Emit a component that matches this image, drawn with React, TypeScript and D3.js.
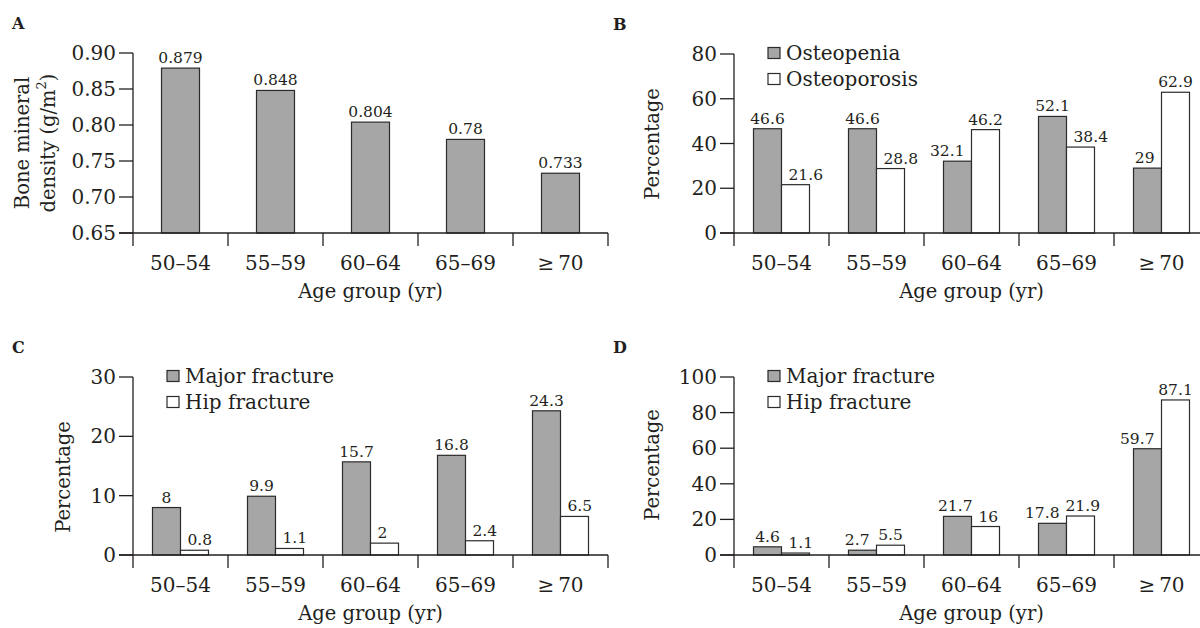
import React, { useRef, useEffect } from 'react';
import * as d3 from 'd3';

const AGE_GROUPS = ['50–54', '55–59', '60–64', '65–69', '≥\u200970'];

const BMD = [0.879, 0.848, 0.804, 0.78, 0.733];

const OSTEOPENIA = [46.6, 46.6, 32.1, 52.1, 29];
const OSTEOPOROSIS = [21.6, 28.8, 46.2, 38.4, 62.9];

const MAJOR_C = [8, 9.9, 15.7, 16.8, 24.3];
const HIP_C = [0.8, 1.1, 2, 2.4, 6.5];

const MAJOR_D = [4.6, 2.7, 21.7, 17.8, 59.7];
const HIP_D = [1.1, 5.5, 16, 21.9, 87.1];

const INK = '#231f20';
const GREY = '#a6a6a6';
const FONT = '"DejaVu Serif", serif';

type Series = { name: string; values: number[]; fill: string };

type Panel = {
  letter: string;
  left: number;
  top: number;
  bottom: number;
  domain: [number, number];
  ticks: number[];
  tickFmt: (v: number) => string;
  series: Series[];
  legend: boolean;
  yTitle: { lines: string[]; xs: number[]; cy: number; sup?: boolean };
};

const PANELS: Panel[] = [
  {
    letter: 'A', left: 133, top: 53, bottom: 233,
    domain: [0.65, 0.9], ticks: [0.65, 0.7, 0.75, 0.8, 0.85, 0.9],
    tickFmt: d3.format('.2f'),
    series: [{ name: 'BMD', values: BMD, fill: GREY }],
    legend: false,
    yTitle: { lines: ['Bone mineral', 'density (g/m'], xs: [22, 48], cy: 143, sup: true },
  },
  {
    letter: 'B', left: 734, top: 54, bottom: 233,
    domain: [0, 80], ticks: [0, 20, 40, 60, 80],
    tickFmt: d3.format('d'),
    series: [
      { name: 'Osteopenia', values: OSTEOPENIA, fill: GREY },
      { name: 'Osteoporosis', values: OSTEOPOROSIS, fill: '#ffffff' },
    ],
    legend: true,
    yTitle: { lines: ['Percentage'], xs: [652], cy: 144 },
  },
  {
    letter: 'C', left: 133, top: 377, bottom: 555,
    domain: [0, 30], ticks: [0, 10, 20, 30],
    tickFmt: d3.format('d'),
    series: [
      { name: 'Major fracture', values: MAJOR_C, fill: GREY },
      { name: 'Hip fracture', values: HIP_C, fill: '#ffffff' },
    ],
    legend: true,
    yTitle: { lines: ['Percentage'], xs: [63], cy: 477 },
  },
  {
    letter: 'D', left: 734, top: 377, bottom: 555,
    domain: [0, 100], ticks: [0, 20, 40, 60, 80, 100],
    tickFmt: d3.format('d'),
    series: [
      { name: 'Major fracture', values: MAJOR_D, fill: GREY },
      { name: 'Hip fracture', values: HIP_D, fill: '#ffffff' },
    ],
    legend: true,
    yTitle: { lines: ['Percentage'], xs: [652], cy: 465 },
  },
];

const BAND = 95;
const LABEL_H = 12;

function drawPanel(svg: d3.Selection<SVGSVGElement, unknown, null, undefined>, p: Panel) {
  const g = svg.append('g').style('font-family', FONT).attr('fill', INK);
  const right = p.left + BAND * AGE_GROUPS.length;

  const x = d3.scaleBand<string>().domain(AGE_GROUPS).range([p.left, right]).padding(0);
  const y = d3.scaleLinear().domain(p.domain).range([p.bottom, p.top]);

  // panel letter
  g.append('text')
    .attr('x', p.left - 121).attr('y', p.top - 24)
    .style('font-weight', 'bold').style('font-size', '16px')
    .text(p.letter);

  // bars + value labels
  const nS = p.series.length;
  const barW = nS === 1 ? 38 : 28;
  AGE_GROUPS.forEach((cat, i) => {
    const cx = (x(cat) as number) + x.bandwidth() / 2;
    const items = p.series.map((s, si) => {
      const v = s.values[i];
      const bx = cx + (nS === 1 ? -barW / 2 : (si - nS / 2) * barW);
      g.append('rect')
        .attr('x', bx).attr('y', y(v))
        .attr('width', barW).attr('height', y(p.domain[0]) - y(v))
        .attr('fill', s.fill).attr('stroke', '#2b2b2b').attr('stroke-width', 1.2);
      const t = g.append('text')
        .attr('x', bx + barW / 2).attr('y', y(v) - 5)
        .attr('text-anchor', 'middle')
        .style('font-size', '15.5px')
        .text(String(v));
      const w = (t.node() as SVGTextElement).getComputedTextLength();
      return { v, bx, t, w, c: bx + barW / 2, base: y(v) - 5 };
    });

    if (items.length === 2) {
      const [a, b] = items;
      const edge = b.bx;
      // label of the shorter bar moves away from the taller bar beside it
      const short = a.v < b.v ? a : b;
      const tall = short === a ? b : a;
      if (y(tall.v) < short.base + 3) {
        if (short === a) short.c = edge - 7 - short.w / 2;
        else short.c = edge + 7 + short.w / 2;
      }
      // keep the two labels apart when they sit at similar heights
      if (Math.abs(a.base - b.base) < LABEL_H) {
        const gap = (b.c - b.w / 2) - (a.c + a.w / 2);
        if (gap < 6) {
          if (tall === b) b.c += 6 - gap;
          else a.c -= 6 - gap;
        }
      }
      items.forEach(it => it.t.attr('x', it.c));
    }
  });

  // y axis
  g.append('line')
    .attr('x1', p.left).attr('x2', p.left).attr('y1', p.top).attr('y2', p.bottom)
    .attr('stroke', INK).attr('stroke-width', 1.3);
  p.ticks.forEach(t => {
    g.append('line')
      .attr('x1', p.left - 14).attr('x2', p.left).attr('y1', y(t)).attr('y2', y(t))
      .attr('stroke', INK).attr('stroke-width', 1.3);
    g.append('text')
      .attr('x', p.left - 17).attr('y', y(t))
      .attr('text-anchor', 'end').attr('dominant-baseline', 'central')
      .style('font-size', '20px')
      .text(p.tickFmt(t));
  });

  // x axis
  g.append('line')
    .attr('x1', p.left - 14).attr('x2', right).attr('y1', p.bottom).attr('y2', p.bottom)
    .attr('stroke', INK).attr('stroke-width', 1.3);
  d3.range(AGE_GROUPS.length + 1).forEach(i => {
    const tx = p.left + i * x.bandwidth();
    g.append('line')
      .attr('x1', tx).attr('x2', tx).attr('y1', p.bottom).attr('y2', p.bottom + 13)
      .attr('stroke', INK).attr('stroke-width', 1.3);
  });
  AGE_GROUPS.forEach(c => {
    g.append('text')
      .attr('x', (x(c) as number) + x.bandwidth() / 2).attr('y', p.bottom + 37)
      .attr('text-anchor', 'middle').style('font-size', '20px')
      .text(c);
  });
  g.append('text')
    .attr('x', (p.left + right) / 2).attr('y', p.bottom + 65)
    .attr('text-anchor', 'middle').style('font-size', '19.5px')
    .text('Age group (yr)');

  // y title
  p.yTitle.lines.forEach((line, li) => {
    const t = g.append('text')
      .attr('transform', `translate(${p.yTitle.xs[li]},${p.yTitle.cy}) rotate(-90)`)
      .attr('text-anchor', 'middle').attr('dominant-baseline', 'central')
      .style('font-size', '19.5px')
      .text(line);
    if (p.yTitle.sup && li === p.yTitle.lines.length - 1) {
      t.append('tspan').attr('dy', -7).style('font-size', '13px').text('2');
      t.append('tspan').attr('dy', 7).text(')');
    }
  });

  // legend
  if (p.legend) {
    p.series.forEach((s, si) => {
      const cy = p.top - 1 + si * 26;
      g.append('rect')
        .attr('x', p.left + 34).attr('y', cy - 5.5)
        .attr('width', 12).attr('height', 11)
        .attr('fill', s.fill).attr('stroke', '#2b2b2b').attr('stroke-width', 1.2);
      g.append('text')
        .attr('x', p.left + 52).attr('y', cy)
        .attr('dominant-baseline', 'central').style('font-size', '20px')
        .text(s.name);
    });
  }
}

export default function App() {
  const svgRef = useRef<SVGSVGElement>(null);

  useEffect(() => {
    if (!svgRef.current) return;
    const svg = d3.select(svgRef.current);
    svg.selectAll('*').remove();
    svg.append('rect').attr('width', 1200).attr('height', 628).attr('fill', '#ffffff');
    PANELS.forEach(p => drawPanel(svg, p));
  }, []);

  return (
    <svg
      ref={svgRef}
      width={1200}
      height={628}
      style={{ position: 'absolute', left: 0, top: 0, display: 'block' }}
    />
  );
}
